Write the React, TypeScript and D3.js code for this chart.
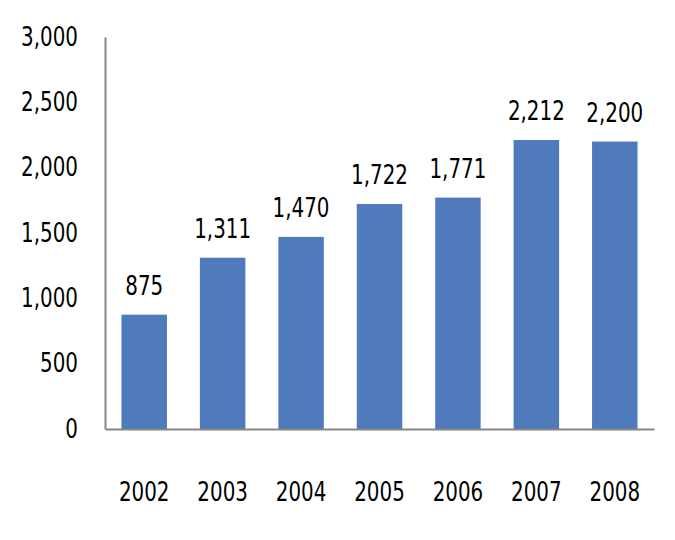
import React, { useEffect, useRef } from "react";
import * as d3 from "d3";

const years = ["2002", "2003", "2004", "2005", "2006", "2007", "2008"];
const values = [875, 1311, 1470, 1722, 1771, 2212, 2200];
const yTicks = [0, 500, 1000, 1500, 2000, 2500, 3000];

const App = () => {
  const svgRef = useRef<SVGSVGElement>(null);
  const width = 675;
  const height = 540;
  const marginTop = 37;
  const marginLeft = 105;
  const marginRight = 21;
  const marginBottom = 111;
  const font = "'DejaVu Sans Condensed', 'DejaVu Sans', sans-serif";
  const squeeze = 0.85; // the original font is narrower than anything installed

  useEffect(() => {
    document.body.style.margin = "0";
    const svg = d3.select(svgRef.current);
    svg.selectAll("*").remove();

    const x = d3
      .scaleBand()
      .domain(years)
      .range([marginLeft, width - marginRight])
      .paddingInner(0.42)
      .paddingOuter(0.21);

    const y = d3
      .scaleLinear()
      .domain([0, 3000])
      .range([height - marginBottom, marginTop]);

    // bars
    svg
      .append("g")
      .selectAll("rect")
      .data(values)
      .join("rect")
      .attr("x", (d, i) => x(years[i]))
      .attr("y", (d) => y(d))
      .attr("width", x.bandwidth())
      .attr("height", (d) => y(0) - y(d))
      .attr("fill", "#4F7BBD");

    // value labels
    svg
      .append("g")
      .selectAll("text")
      .data(values)
      .join("text")
      .attr("x", (d, i) => x(years[i]) + x.bandwidth() / 2)
      .attr("y", (d) => y(d) - 20)
      .attr("text-anchor", "middle")
      .text((d) => d3.format(",")(d));

    // y axis
    const yAxis = svg
      .append("g")
      .attr("transform", `translate(${marginLeft},0)`)
      .call(d3.axisLeft(y).tickValues(yTicks).tickFormat(d3.format(",")).tickSize(0).tickPadding(27));
    yAxis.select(".domain").attr("stroke", "#868686").attr("stroke-width", 2);

    // x axis
    const xAxis = svg
      .append("g")
      .attr("transform", `translate(0,${height - marginBottom})`)
      .call(d3.axisBottom(x).tickSize(0).tickSizeOuter(0).tickPadding(54));
    xAxis.select(".domain").attr("stroke", "#868686").attr("stroke-width", 2);

    // shared text style, then narrow each label
    svg
      .selectAll("text")
      .attr("fill", "#000")
      .style("font-family", font)
      .style("font-size", "26px")
      .each(function () {
        const t = this as SVGTextElement;
        const len = t.getComputedTextLength();
        t.setAttribute("textLength", String(len * squeeze));
        t.setAttribute("lengthAdjust", "spacingAndGlyphs");
      });
  }, []);

  return (
    <div>
      <svg ref={svgRef} width={width} height={height} style={{ display: "block", background: "#fff" }}></svg>
    </div>
  );
};

export default App;
